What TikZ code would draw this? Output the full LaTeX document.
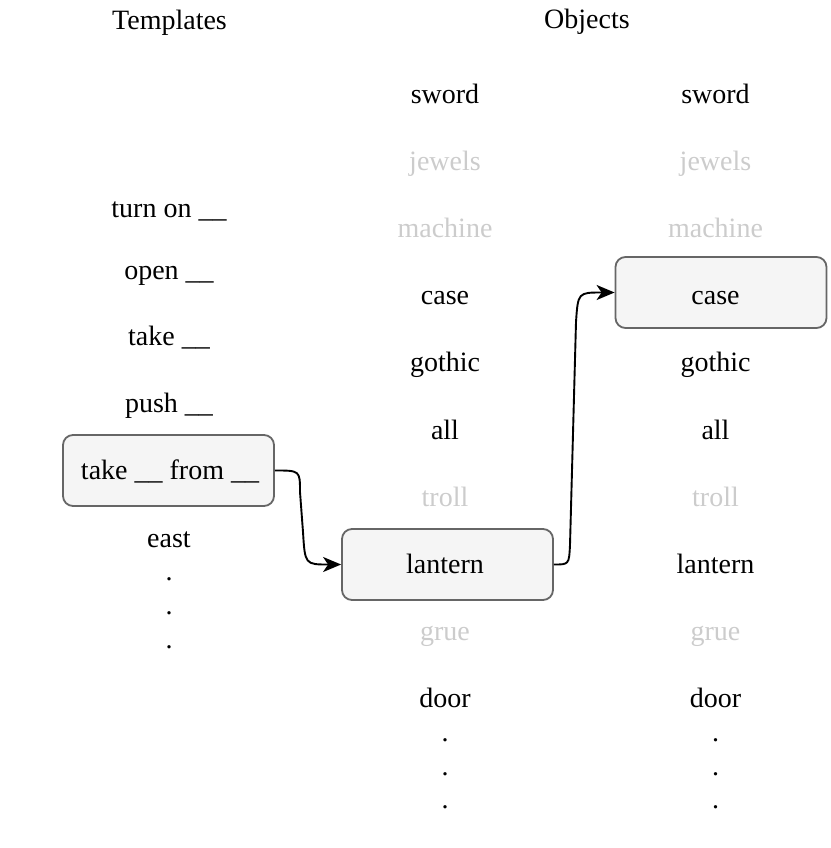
\documentclass[tikz,border=0pt]{standalone}
\usepackage{fontspec}
\setmainfont{Liberation Serif}
\usetikzlibrary{arrows.meta}
\definecolor{boxfill}{HTML}{F5F5F5}
\definecolor{boxline}{HTML}{666666}
\definecolor{faded}{HTML}{CCCCCC}
\begin{document}
\begin{tikzpicture}[x=1pt,y=-1pt,
  lbl/.style={anchor=base, inner sep=0pt, font=\fontsize{28}{33}\selectfont},
  dim/.style={lbl, text=faded},
  hbox/.style={draw=boxline, fill=boxfill, line width=1.8pt, rounded corners=10pt,
               minimum width=211pt, minimum height=71pt, inner sep=0pt},
  arr/.style={line width=1.9pt, -{Stealth[length=18pt,width=15pt,inset=5pt]}}]
\useasboundingbox (0,0) rectangle (830,848);

% highlight boxes
\node[hbox] (tk) at (168.5,470.5) {};
\node[hbox] (ln) at (447.5,564.5) {};
\node[hbox] (cs) at (721,292.5) {};

% titles
\node[lbl] (tt) at (169.5,30) {Templates};
\node[lbl] (ot) at (587,29) {Objects};

% templates column
\node[lbl] (t1) at (169,217) {turn on \_\_};
\node[lbl] (t2) at (169,279) {open \_\_};
\node[lbl] (t3) at (169,345) {take \_\_};
\node[lbl] (t4) at (169,412) {push \_\_};
\node[lbl] (t5) at (170,479) {take \_\_ from \_\_};
\node[lbl] (t6) at (169,547) {east};
\node[lbl] (td1) at (169,580) {.};
\node[lbl] (td2) at (169,614) {.};
\node[lbl] (td3) at (169,648) {.};

% objects column 1
\node[lbl] (a1) at (445,103) {sword};
\node[dim] (a2) at (445,170) {jewels};
\node[dim] (a3) at (445,237) {machine};
\node[lbl] (a4) at (445,304) {case};
\node[lbl] (a5) at (445,371) {gothic};
\node[lbl] (a6) at (445,439) {all};
\node[dim] (a7) at (445,506) {troll};
\node[lbl] (a8) at (445,573) {lantern};
\node[dim] (a9) at (445,640) {grue};
\node[lbl] (a10) at (445,707) {door};
\node[lbl] (ad1) at (445,741) {.};
\node[lbl] (ad2) at (445,775) {.};
\node[lbl] (ad3) at (445,808) {.};

% objects column 2
\node[lbl] (b1) at (715.5,103) {sword};
\node[dim] (b2) at (715.5,170) {jewels};
\node[dim] (b3) at (715.5,237) {machine};
\node[lbl] (b4) at (715.5,304) {case};
\node[lbl] (b5) at (715.5,371) {gothic};
\node[lbl] (b6) at (715.5,439) {all};
\node[dim] (b7) at (715.5,506) {troll};
\node[lbl] (b8) at (715.5,573) {lantern};
\node[dim] (b9) at (715.5,640) {grue};
\node[lbl] (b10) at (715.5,707) {door};
\node[lbl] (bd1) at (715.5,741) {.};
\node[lbl] (bd2) at (715.5,775) {.};
\node[lbl] (bd3) at (715.5,808) {.};

% connectors
\coordinate (p1) at (300,492);
\coordinate (p2) at (303,532);
\draw[arr] (tk.east) .. controls (300,470.5) .. (p1) -- (p2) .. controls (305,564.5) .. (ln.west);
\coordinate (q1) at (570,545);
\coordinate (q2) at (576,322);
\draw[arr] (ln.east) .. controls (569,564.5) .. (q1) -- (q2) .. controls (578,292.5) .. (cs.west);
\end{tikzpicture}
\end{document}
